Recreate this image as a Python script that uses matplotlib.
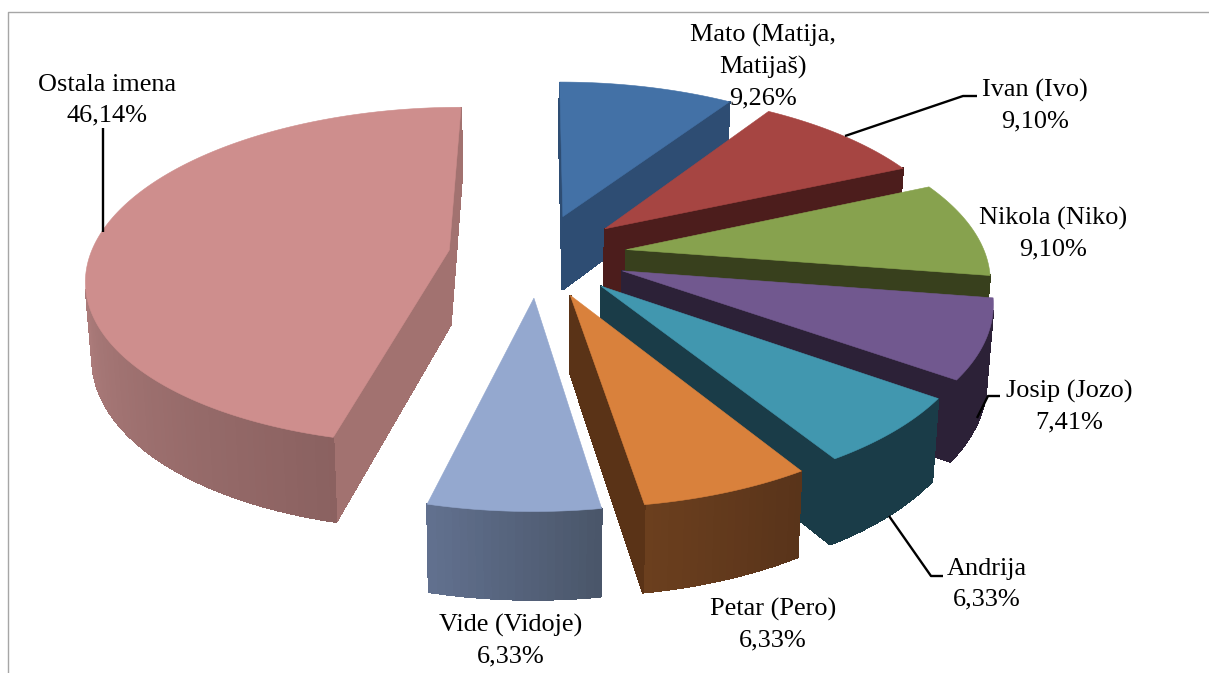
#!/usr/bin/env python3
import matplotlib

matplotlib.use("Agg")
import matplotlib.pyplot as plt
import numpy as np
from matplotlib.colors import to_rgb
from matplotlib.patches import Polygon

names = ["Mato (Matija,\nMatijaš)", "Ivan (Ivo)", "Nikola (Niko)", "Josip (Jozo)",
         "Andrija", "Petar (Pero)", "Vide (Vidoje)", "Ostala imena"]
values = [9.26, 9.10, 9.10, 7.41, 6.33, 6.33, 6.33, 46.14]

top_colors = ["#4371A6", "#A64542", "#87A24E", "#71588F", "#4197AF", "#D9813C", "#94A8CF", "#CE8E8D"]
wall_colors = ["#2E4D73", "#4C1D1C", "#38401D", "#2C2137", "#1A3C48", "#5A3317", "#55617C", "#A27270"]
arc_right = ["#2E4D73", "#4C1D1C", "#38401D", "#2C2137", "#1A3C48", "#58331A", "#495568", "#8A6160"]
arc_left = ["#2E4D73", "#4C1D1C", "#38401D", "#2C2137", "#1A3C48", "#6B3F1E", "#61708E", "#E0A5A4"]
label_pos = [(763, 67), (1035, 106), (1053, 233.5), (1069, 407), (987, 584.5), (773, 624.5), (511, 641), (107, 100)]
leaders = [None, [(845, 136), (963, 96), (977, 96)], None, [(977, 418), (988, 396), (1000, 396)],
           [(889, 516), (931, 576), (943, 576)], None, None, [(103, 128), (103, 232)]]

# projection of the pie plane to pixels
CX, CY = 538, 255
RX, RY = 359, 166
PERSP = 0.153
EXPLODE = 0.25
DEPTH = 75
DEPTH_PERSP = 0.12
SHRINK = 0.985


def project(gx, gy):
    w = 1 + PERSP * gy
    return CX + RX * gx / w, CY - RY * gy / w, DEPTH / (1 + DEPTH_PERSP * gy)


def slice_outline(start, end):
    mid = (start + end) / 2
    ex, ey = EXPLODE * np.sin(mid), EXPLODE * np.cos(mid)
    th = np.linspace(start, end, max(12, int((end - start) * 60)))
    gx = np.concatenate([[ex], ex + np.sin(th)])
    gy = np.concatenate([[ey], ey + np.cos(th)])
    x, y, d = project(gx, gy)
    xb = CX + (x - CX) * SHRINK
    return np.column_stack([x, y]), np.column_stack([xb, y + d])


def signed_area(q):
    xs, ys = q[:, 0], q[:, 1]
    return np.sum(xs * np.roll(ys, -1) - np.roll(xs, -1) * ys)


fig = plt.figure(figsize=(12.09, 6.73), dpi=100)
ax = fig.add_axes([0, 0, 1, 1])
ax.set_xlim(0, 1209)
ax.set_ylim(673, 0)
ax.axis("off")

ax.plot([8, 8, 1209], [673, 12, 12], color="#A6A6A6", lw=1.0)

edges = np.radians(np.cumsum([0] + values) * 3.6)
for i in range(len(values)):
    top, bottom = slice_outline(edges[i], edges[i + 1])
    n = len(top)
    for k in range(n):
        j = (k + 1) % n
        quad = np.array([top[k], top[j], bottom[j], bottom[k]])
        if signed_area(quad) >= 0:
            continue
        if k == 0 or k == n - 1:
            color = wall_colors[i]
        else:
            t = k / (n - 2)
            color = tuple((1 - t) * np.array(to_rgb(arc_right[i])) + t * np.array(to_rgb(arc_left[i])))
        ax.add_patch(Polygon(quad, closed=True, facecolor=color, edgecolor=color, lw=0.8, antialiased=False))
    ax.add_patch(Polygon(top, closed=True, facecolor=top_colors[i], edgecolor=top_colors[i], lw=0.4))

for line in leaders:
    if line:
        ax.plot(*zip(*line), color="black", lw=1.7, solid_capstyle="butt")

for name, value, (x, y) in zip(names, values, label_pos):
    ax.text(x, y, f"{name}\n{value:.2f}%".replace(".", ","), ha="center", va="center",
            family="Liberation Serif", fontsize=18.9, linespacing=1.5, color="black")

fig.savefig("out.png", dpi=100)
